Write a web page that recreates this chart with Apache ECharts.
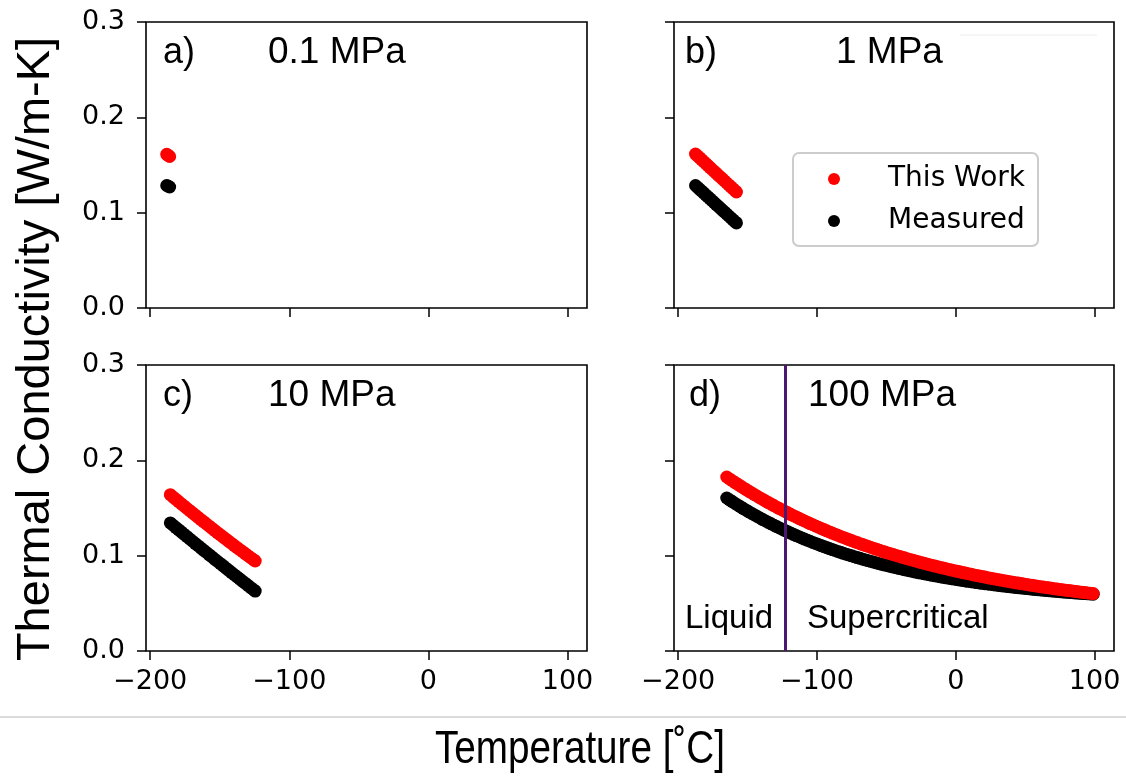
<!DOCTYPE html>
<html>
<head>
<meta charset="utf-8">
<title>Thermal conductivity of argon</title>
<script src="https://cdn.jsdelivr.net/npm/echarts@6/dist/echarts.min.js"></script>
<style>
  html, body { margin: 0; padding: 0; background: #fff; }
  #chart { width: 1126px; height: 780px; }
</style>
</head>
<body>
<div id="chart"></div>
<script>
// ---- data: temperature [°C] and thermal conductivity [W/m-K] ----
const xTicks = [-200, -100, 0, 100];
const yTicks = [0.0, 0.1, 0.2, 0.3];
const panelLetters = ['a)', 'b)', 'c)', 'd)'];
const panelPressures = ['0.1 MPa', '1 MPa', '10 MPa', '100 MPa'];
const seriesNames = ['This Work', 'Measured'];
const phaseLabels = ['Liquid', 'Supercritical'];
const criticalTemp = -122.5;

// a) 0.1 MPa
const tempA = [-188.1, -187.0, -186.0];
const workA = [0.1612, 0.1600, 0.1589];
const measA = [0.1285, 0.1277, 0.1269];

// b) 1 MPa
const tempB = [-187.5, -186, -184.5, -183, -181.5, -180, -178.5, -177, -175.5, -174, -172.5,
  -171, -169.5, -168, -166.5, -165, -163.5, -162, -160.5, -159, -158];
const workB = [0.1615, 0.1595, 0.1575, 0.1554, 0.1534, 0.1514, 0.1494, 0.1473, 0.1453, 0.1433, 0.1413,
  0.1392, 0.1372, 0.1352, 0.1332, 0.1311, 0.1291, 0.1271, 0.1251, 0.1230, 0.1217];
const measB = [0.1285, 0.1265, 0.1245, 0.1225, 0.1205, 0.1185, 0.1165, 0.1145, 0.1125, 0.1105, 0.1085,
  0.1065, 0.1045, 0.1025, 0.1005, 0.0985, 0.0965, 0.0945, 0.0925, 0.0905, 0.0892];

// c) 10 MPa
const tempC = [-185.5, -183.5, -181.5, -179.5, -177.5, -175.5, -173.5, -171.5, -169.5, -167.5, -165.5,
  -163.5, -161.5, -159.5, -157.5, -155.5, -153.5, -151.5, -149.5, -147.5, -145.5, -143.5, -141.5,
  -139.5, -137.5, -135.5, -133.5, -131.5, -129.5, -127.5, -125.5, -124.5];
const workC = [0.1640, 0.1615, 0.1591, 0.1567, 0.1543, 0.1519, 0.1495, 0.1472, 0.1448, 0.1425, 0.1401,
  0.1378, 0.1355, 0.1332, 0.1309, 0.1286, 0.1263, 0.1240, 0.1218, 0.1195, 0.1173, 0.1150, 0.1128,
  0.1106, 0.1084, 0.1062, 0.1041, 0.1019, 0.0997, 0.0976, 0.0955, 0.0944];
const measC = [0.1343, 0.1319, 0.1295, 0.1271, 0.1247, 0.1223, 0.1199, 0.1175, 0.1151, 0.1127, 0.1104,
  0.1080, 0.1056, 0.1033, 0.1009, 0.0986, 0.0962, 0.0939, 0.0916, 0.0893, 0.0869, 0.0846, 0.0823,
  0.0800, 0.0777, 0.0754, 0.0731, 0.0709, 0.0686, 0.0663, 0.0640, 0.0629];

// d) 100 MPa
const tempD = [-165, -163, -161, -159, -157, -155, -153, -151, -149, -147, -145, -143, -141, -139,
  -137, -135, -133, -131, -129, -127, -125, -123, -121, -119, -117, -115, -113, -111, -109, -107,
  -105, -103, -101, -99, -97, -95, -93, -91, -89, -87, -85, -83, -81, -79, -77, -75, -73, -71, -69,
  -67, -65, -63, -61, -59, -57, -55, -53, -51, -49, -47, -45, -43, -41, -39, -37, -35, -33, -31, -29,
  -27, -25, -23, -21, -19, -17, -15, -13, -11, -9, -7, -5, -3, -1, 1, 3, 5, 7, 9, 11, 13, 15, 17, 19,
  21, 23, 25, 27, 29, 31, 33, 35, 37, 39, 41, 43, 45, 47, 49, 51, 53, 55, 57, 59, 61, 63, 65, 67, 69,
  71, 73, 75, 77, 79, 81, 83, 85, 87, 89, 91, 93, 95, 97, 99];
const workD = [0.1825, 0.1805, 0.1786, 0.1767, 0.1748, 0.1730, 0.1711, 0.1693, 0.1675, 0.1658, 0.1640,
  0.1623, 0.1606, 0.1590, 0.1573, 0.1557, 0.1541, 0.1525, 0.1509, 0.1494, 0.1479, 0.1464, 0.1449,
  0.1434, 0.1420, 0.1406, 0.1392, 0.1378, 0.1364, 0.1351, 0.1337, 0.1324, 0.1311, 0.1299, 0.1286,
  0.1274, 0.1261, 0.1249, 0.1237, 0.1225, 0.1214, 0.1202, 0.1191, 0.1180, 0.1169, 0.1158, 0.1147,
  0.1137, 0.1126, 0.1116, 0.1106, 0.1096, 0.1086, 0.1076, 0.1066, 0.1057, 0.1047, 0.1038, 0.1029,
  0.1020, 0.1011, 0.1002, 0.0994, 0.0985, 0.0977, 0.0968, 0.0960, 0.0952, 0.0944, 0.0936, 0.0928,
  0.0921, 0.0913, 0.0906, 0.0898, 0.0891, 0.0884, 0.0877, 0.0870, 0.0863, 0.0856, 0.0849, 0.0843,
  0.0836, 0.0830, 0.0823, 0.0817, 0.0811, 0.0805, 0.0798, 0.0793, 0.0787, 0.0781, 0.0775, 0.0769,
  0.0764, 0.0758, 0.0753, 0.0748, 0.0742, 0.0737, 0.0732, 0.0727, 0.0722, 0.0717, 0.0712, 0.0707,
  0.0703, 0.0698, 0.0693, 0.0689, 0.0684, 0.0680, 0.0675, 0.0671, 0.0667, 0.0663, 0.0658, 0.0654,
  0.0650, 0.0646, 0.0642, 0.0638, 0.0635, 0.0631, 0.0627, 0.0623, 0.0620, 0.0616, 0.0613, 0.0609,
  0.0606, 0.0602];
const measD = [0.1605, 0.1586, 0.1567, 0.1548, 0.1530, 0.1512, 0.1494, 0.1477, 0.1460, 0.1443, 0.1427,
  0.1411, 0.1395, 0.1379, 0.1364, 0.1349, 0.1334, 0.1319, 0.1305, 0.1291, 0.1277, 0.1263, 0.1250,
  0.1237, 0.1224, 0.1211, 0.1199, 0.1186, 0.1174, 0.1162, 0.1151, 0.1139, 0.1128, 0.1117, 0.1106,
  0.1095, 0.1085, 0.1074, 0.1064, 0.1054, 0.1045, 0.1035, 0.1025, 0.1016, 0.1007, 0.0998, 0.0989,
  0.0980, 0.0972, 0.0963, 0.0955, 0.0947, 0.0939, 0.0931, 0.0923, 0.0916, 0.0908, 0.0901, 0.0894,
  0.0887, 0.0880, 0.0873, 0.0866, 0.0860, 0.0853, 0.0847, 0.0841, 0.0834, 0.0828, 0.0822, 0.0817,
  0.0811, 0.0805, 0.0800, 0.0794, 0.0789, 0.0784, 0.0778, 0.0773, 0.0768, 0.0763, 0.0758, 0.0754,
  0.0749, 0.0744, 0.0740, 0.0735, 0.0731, 0.0727, 0.0723, 0.0718, 0.0714, 0.0710, 0.0706, 0.0703,
  0.0699, 0.0695, 0.0691, 0.0688, 0.0684, 0.0681, 0.0677, 0.0674, 0.0671, 0.0667, 0.0664, 0.0661,
  0.0658, 0.0655, 0.0652, 0.0649, 0.0646, 0.0643, 0.0640, 0.0638, 0.0635, 0.0632, 0.0630, 0.0627,
  0.0625, 0.0622, 0.0620, 0.0617, 0.0615, 0.0613, 0.0610, 0.0608, 0.0606, 0.0604, 0.0602, 0.0600,
  0.0598, 0.0596];

// ---- layout ----
const panels = [
  { temp: tempA, work: workA, meas: measA, left: 146, top: 22,  width: 441 },
  { temp: tempB, work: workB, meas: measB, left: 674, top: 22,  width: 440 },
  { temp: tempC, work: workC, meas: measC, left: 146, top: 365, width: 441 },
  { temp: tempD, work: workD, meas: measD, left: 674, top: 365, width: 440 }
];
const plotHeight = 286;
const tickFont = 'DejaVu Sans';
const textFont = '"Liberation Sans", Arial, Helvetica, sans-serif';
const RED = '#ff0000';
const BLACK = '#000000';
const DOT = 13;

const pairs = (xs, ys) => xs.map((x, i) => [x, ys[i]]);
const fmtTemp = v => (v < 0 ? '\u2212' + Math.abs(v) : String(v));

const grids = [], xAxes = [], yAxes = [], series = [];
panels.forEach((p, i) => {
  const isLeft = i % 2 === 0;
  const isBottom = i >= 2;
  grids.push({
    left: p.left, top: p.top, width: p.width, height: plotHeight,
    show: true, borderColor: '#000', borderWidth: 1.6, backgroundColor: 'transparent'
  });
  xAxes.push({
    type: 'value', gridIndex: i, min: -203, max: 114,
    axisLine: { show: false, onZero: false }, splitLine: { show: false },
    axisTick: { show: true, customValues: xTicks, length: 9, lineStyle: { color: '#000', width: 1.5 } },
    axisLabel: {
      show: isBottom, customValues: xTicks, margin: 17,
      fontFamily: tickFont, fontSize: 27, color: '#000', formatter: fmtTemp
    }
  });
  yAxes.push({
    type: 'value', gridIndex: i, min: 0, max: 0.3,
    axisLine: { show: false, onZero: false }, splitLine: { show: false },
    axisTick: { show: true, customValues: yTicks, length: 9, lineStyle: { color: '#000', width: 1.5 } },
    axisLabel: {
      show: isLeft, customValues: yTicks, margin: 21,
      fontFamily: tickFont, fontSize: 27, color: '#000', formatter: v => v.toFixed(1)
    }
  });
  series.push({
    name: seriesNames[1], type: 'scatter', xAxisIndex: i, yAxisIndex: i, z: 2,
    symbol: 'circle', symbolSize: DOT, itemStyle: { color: BLACK, opacity: 1 },
    data: pairs(p.temp, p.meas), silent: true
  });
  series.push({
    name: seriesNames[0], type: 'scatter', xAxisIndex: i, yAxisIndex: i, z: 3,
    symbol: 'circle', symbolSize: DOT, itemStyle: { color: RED, opacity: 1 },
    data: pairs(p.temp, p.work), silent: true
  });
});

// critical temperature divider in the 100 MPa panel
series.push({
  name: 'critical', type: 'scatter', xAxisIndex: 3, yAxisIndex: 3, z: 5, data: [],
  markLine: {
    silent: true, symbol: ['none', 'none'], animation: false,
    label: { show: false },
    lineStyle: { color: '#4b176f', width: 3, type: 'solid' },
    data: [{ xAxis: criticalTemp }]
  }
});

// panel annotations
const graphics = [];
const letterX = [163, 685, 163, 689];
const pressureX = [268, 836, 268, 808];
panels.forEach((p, i) => {
  const cy = p.top + 31;
  graphics.push({
    type: 'text', x: letterX[i], y: cy, silent: true,
    style: { text: panelLetters[i], font: '36px ' + textFont, fill: '#000', align: 'left', verticalAlign: 'middle' }
  });
  graphics.push({
    type: 'text', x: pressureX[i], y: cy, silent: true,
    style: { text: panelPressures[i], font: '37px ' + textFont, fill: '#000', align: 'left', verticalAlign: 'middle' }
  });
});
graphics.push({
  type: 'text', x: 685, y: 619, silent: true,
  style: { text: phaseLabels[0], font: '33px ' + textFont, fill: '#000', align: 'left', verticalAlign: 'middle' }
});
graphics.push({
  type: 'text', x: 807, y: 619, silent: true,
  style: { text: phaseLabels[1], font: '33px ' + textFont, fill: '#000', align: 'left', verticalAlign: 'middle' }
});
// axis titles
graphics.push({
  type: 'text', x: 36, y: 349, rotation: Math.PI / 2, silent: true,
  style: { text: 'Thermal Conductivity [W/m-K]', font: '47px ' + textFont, fill: '#000', align: 'center', verticalAlign: 'middle' }
});
graphics.push({
  type: 'text', x: 580, y: 750, scaleX: 0.84, silent: true,
  style: { text: 'Temperature [\u02DAC]', font: '46px ' + textFont, fill: '#000', align: 'center', verticalAlign: 'middle' }
});
// separator rules
graphics.push({
  type: 'line', silent: true, shape: { x1: 0, y1: 717, x2: 1126, y2: 717 },
  style: { stroke: '#cfcfcf', lineWidth: 1.5 }
});
graphics.push({
  type: 'line', silent: true, shape: { x1: 960, y1: 35, x2: 1097, y2: 35 },
  style: { stroke: '#ececec', lineWidth: 1 }
});

const chart = echarts.init(document.getElementById('chart'), null, { renderer: 'canvas' });
chart.setOption({
  backgroundColor: '#ffffff',
  animation: false,
  grid: grids,
  xAxis: xAxes,
  yAxis: yAxes,
  legend: {
    data: seriesNames, orient: 'vertical', left: 793, top: 153,
    padding: [11, 13, 10, 35], itemWidth: 12, itemHeight: 12, itemGap: 12,
    icon: 'circle', selectedMode: false,
    borderColor: '#cccccc', borderWidth: 2, borderRadius: 6, backgroundColor: '#ffffff',
    textStyle: { fontFamily: tickFont, fontSize: 28, color: '#000', lineHeight: 30, padding: [0, 0, 0, 43] }
  },
  series: series,
  graphic: graphics
});
</script>
</body>
</html>
